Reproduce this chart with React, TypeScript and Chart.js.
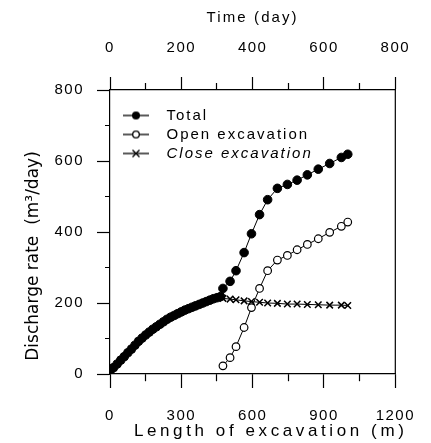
import React, { useEffect, useRef } from 'react';
import { Chart, registerables } from 'chart.js';

Chart.register(...registerables);

const FONT = "'Liberation Sans', Arial, Helvetica, sans-serif";
const WIDE_FONT = "'DejaVu Sans', 'Liberation Sans', sans-serif";

// Early stage (close excavation only): length of excavation (m) and discharge (m3/day)
const denseLength = [0, 15, 30, 45, 60, 75, 90, 105, 120, 135, 150, 165, 180, 195, 210, 225, 240, 255, 270, 285, 300, 315, 330, 345, 360, 375, 390, 405, 420, 435, 450, 465];
const denseTotal = [8, 18, 28, 39, 49, 60, 70, 81, 92, 101, 110, 118, 126, 133, 140, 147, 154, 160, 165, 170, 175, 180, 184, 188, 192, 196, 200, 204, 208, 212, 215, 218];

// Later stage (open + close excavation)
const stageLength = [475, 505, 530, 564, 595, 629, 663, 704, 746, 787, 830, 876, 924, 973, 1000];
const totalStage = [241, 261, 291, 342, 395, 449, 491, 523, 534, 546, 561, 577, 593, 610, 619];
const openStage = [23, 46, 77, 131, 187, 241, 291, 321, 334, 350, 365, 381, 399, 416, 428];
const closeStage = [213, 211, 209, 206, 204, 202, 200, 199, 197, 197, 196, 195, 194, 194, 193];

const seriesNames = ['Total', 'Open excavation', 'Close excavation'];
const italicSeries = 'Close excavation';

const lengthRange = [0, 1200];
const lengthTickStep = 150;
const lengthLabelStep = 300;
const timeRange = [0, 800];
const timeTickStep = 100;
const timeLabelStep = 200;
const rateRange = [0, 800];
const rateTickStep = 100;
const rateLabelStep = 200;

const xTitle = 'Length of excavation (m)';
const x2Title = 'Time (day)';
const yTitle = 'Discharge rate  (m\u00B3/day)';

function styleScaleText(scale: any, shift: [number, number], titleSpacing: string, labelSpacing: string) {
  if (scale.__styled) return;
  scale.__styled = true;
  const proto = Object.getPrototypeOf(scale);
  scale.drawTitle = function () {
    const ctx = this.ctx;
    ctx.save();
    ctx.letterSpacing = titleSpacing;
    ctx.translate(shift[0], shift[1]);
    proto.drawTitle.call(this);
    ctx.restore();
  };
  scale.drawLabels = function (area: any) {
    const ctx = this.ctx;
    ctx.save();
    ctx.letterSpacing = labelSpacing;
    proto.drawLabels.call(this, area);
    ctx.restore();
  };
}

function makeLegendIcon(kind: 'filled' | 'open' | 'cross') {
  const c = document.createElement('canvas');
  c.width = 45;
  c.height = 12;
  const g = c.getContext('2d')!;
  g.strokeStyle = '#000';
  g.lineWidth = 1.3;
  g.beginPath();
  g.moveTo(9, 6);
  g.lineTo(35, 6);
  g.stroke();
  if (kind === 'filled') {
    g.fillStyle = '#000';
    g.beginPath();
    g.arc(22, 6, 4, 0, Math.PI * 2);
    g.fill();
  } else if (kind === 'open') {
    g.fillStyle = '#fff';
    g.beginPath();
    g.arc(22, 6, 3.3, 0, Math.PI * 2);
    g.fill();
    g.stroke();
  } else {
    g.lineWidth = 1.4;
    g.beginPath();
    g.moveTo(18.5, 2.5);
    g.lineTo(25.5, 9.5);
    g.moveTo(25.5, 2.5);
    g.lineTo(18.5, 9.5);
    g.stroke();
  }
  return c;
}

function styleLegend(lg: any) {
  if (lg.__styled) return;
  lg.__styled = true;
  const proto = Object.getPrototypeOf(lg);
  lg.draw = function (area: any) {
    const ctx = this.ctx;
    const origFill = ctx.fillText;
    ctx.save();
    ctx.letterSpacing = '2px';
    ctx.fillText = function (text: string, x: number, y: number, mw?: number) {
      if (text === italicSeries) {
        const f = this.font;
        this.font = 'italic ' + f;
        if (mw === undefined) origFill.call(this, text, x, y);
        else origFill.call(this, text, x, y, mw);
        this.font = f;
      } else if (mw === undefined) {
        origFill.call(this, text, x, y);
      } else {
        origFill.call(this, text, x, y, mw);
      }
    };
    try {
      proto.draw.call(this, area);
    } finally {
      delete ctx.fillText;
      ctx.restore();
    }
  };
}

export default function App() {
  const ref = useRef<HTMLCanvasElement | null>(null);

  useEffect(() => {
    const canvas = ref.current;
    if (!canvas) return;

    const icons = [makeLegendIcon('filled'), makeLegendIcon('open'), makeLegendIcon('cross')];

    const totalData = [
      ...denseLength.map((x, i) => ({ x, y: denseTotal[i] })),
      ...stageLength.map((x, i) => ({ x, y: totalStage[i] })),
    ];
    const openData = stageLength.map((x, i) => ({ x, y: openStage[i] }));
    const closeData = [
      ...denseLength.map((x, i) => ({ x, y: denseTotal[i] })),
      ...stageLength.map((x, i) => ({ x, y: closeStage[i] })),
    ];

    const framePlugin = {
      id: 'frameAndLegend',
      beforeDraw(chart: any) {
        const lg = chart.legend;
        const ca = chart.chartArea;
        if (lg && ca) {
          styleLegend(lg);
          const h = lg.height;
          lg.left = ca.left;
          lg.top = ca.top + 14;
          lg.bottom = lg.top + h;
          lg.right = ca.right;
        }
      },
      afterDraw(chart: any) {
        const { ctx, chartArea: ca } = chart;
        ctx.save();
        ctx.strokeStyle = '#000';
        ctx.lineWidth = 1.2;
        ctx.beginPath();
        ctx.moveTo(ca.right, ca.top);
        ctx.lineTo(ca.right, ca.bottom);
        ctx.stroke();
        ctx.restore();
      },
    };

    const tickFont = { family: FONT, size: 15 };

    const chart = new Chart(canvas, {
      type: 'scatter',
      data: {
        datasets: [
          {
            label: seriesNames[0],
            data: totalData,
            showLine: true,
            borderColor: '#000',
            borderWidth: 1,
            backgroundColor: '#000',
            pointStyle: 'circle',
            pointRadius: 4.3,
            pointBorderWidth: 1,
            pointBackgroundColor: '#000',
            pointBorderColor: '#000',
            tension: 0,
          },
          {
            label: seriesNames[1],
            data: openData,
            showLine: true,
            borderColor: '#000',
            borderWidth: 1,
            backgroundColor: '#fff',
            pointStyle: 'circle',
            pointRadius: 3.8,
            pointBorderWidth: 1.2,
            pointBackgroundColor: '#fff',
            pointBorderColor: '#000',
            tension: 0,
          },
          {
            label: seriesNames[2],
            data: closeData,
            showLine: true,
            borderColor: '#000',
            borderWidth: 1,
            backgroundColor: '#000',
            pointStyle: 'crossRot',
            pointRadius: 4.6,
            pointBorderWidth: 1.5,
            pointBorderColor: '#000',
            tension: 0,
          },
        ],
      },
      options: {
        responsive: false,
        animation: false,
        events: [],
        layout: { padding: { left: 0, right: 26, top: 0, bottom: 0 } },
        plugins: {
          tooltip: { enabled: false },
          title: { display: false },
          legend: {
            display: true,
            position: 'chartArea' as any,
            align: 'start',
            title: { display: false },
            labels: {
              usePointStyle: true,
              pointStyleWidth: 45,
              padding: 4,
              color: '#000',
              font: { family: FONT, size: 15 },
              generateLabels: () =>
                seriesNames.map((name, i) => ({
                  text: name,
                  pointStyle: icons[i] as any,
                  datasetIndex: i,
                  hidden: false,
                  fillStyle: '#000',
                  strokeStyle: '#000',
                  lineWidth: 0,
                  fontColor: '#000',
                })),
            },
          },
        },
        scales: {
          x: {
            type: 'linear',
            axis: 'x',
            position: 'bottom',
            min: lengthRange[0],
            max: lengthRange[1],
            afterFit: (s: any) => {
              s.height = 69;
              styleScaleText(s, [18, 0], '3.6px', '1.5px');
            },
            ticks: {
              stepSize: lengthTickStep,
              autoSkip: false,
              maxRotation: 0,
              padding: 19,
              color: '#000',
              font: tickFont,
              callback: (v: any) => (Number(v) % lengthLabelStep === 0 ? String(v) : ''),
            },
            grid: {
              display: true,
              drawOnChartArea: false,
              drawTicks: true,
              tickLength: 14,
              tickColor: '#000',
              tickWidth: 1.2,
              tickBorderDash: (ctx: any) =>
                ctx.tick && ctx.tick.value % lengthLabelStep !== 0 ? [7, 100] : [],
            },
            border: { display: true, color: '#000', width: 1.2 },
            title: {
              display: true,
              text: xTitle,
              color: '#000',
              font: { family: FONT, size: 17 },
              padding: { top: 0, bottom: 1 },
            },
          },
          x2: {
            type: 'linear',
            axis: 'x',
            position: 'top',
            min: timeRange[0],
            max: timeRange[1],
            afterFit: (s: any) => {
              s.height = 90;
              styleScaleText(s, [0, 0], '2.1px', '1.5px');
            },
            ticks: {
              stepSize: timeTickStep,
              autoSkip: false,
              maxRotation: 0,
              padding: 20,
              color: '#000',
              font: tickFont,
              callback: (v: any) => (Number(v) % timeLabelStep === 0 ? String(v) : ''),
            },
            grid: {
              display: true,
              drawOnChartArea: false,
              drawTicks: true,
              tickLength: 13,
              tickColor: '#000',
              tickWidth: 1.2,
              tickBorderDash: (ctx: any) =>
                ctx.tick && ctx.tick.value % timeLabelStep !== 0 ? [0, 6, 7, 100] : [],
            },
            border: { display: true, color: '#000', width: 1.2 },
            title: {
              display: true,
              text: x2Title,
              color: '#000',
              font: { family: FONT, size: 15 },
              padding: { top: 9, bottom: 0 },
            },
          },
          y: {
            type: 'linear',
            axis: 'y',
            position: 'left',
            min: rateRange[0],
            max: rateRange[1],
            afterFit: (s: any) => {
              s.width = 110;
              styleScaleText(s, [0, 24], '0px', '1.5px');
            },
            ticks: {
              stepSize: rateTickStep,
              autoSkip: false,
              padding: 13,
              color: '#000',
              font: tickFont,
              callback: (v: any) => (Number(v) % rateLabelStep === 0 ? String(v) : ''),
            },
            grid: {
              display: true,
              drawOnChartArea: false,
              drawTicks: true,
              tickLength: 13,
              tickColor: '#000',
              tickWidth: 1.2,
              tickBorderDash: (ctx: any) =>
                ctx.tick && ctx.tick.value % rateLabelStep !== 0 ? [0, 8, 5, 100] : [],
            },
            border: { display: true, color: '#000', width: 1.2 },
            title: {
              display: true,
              text: yTitle,
              color: '#000',
              font: { family: WIDE_FONT, size: 17 },
              padding: { top: 23, bottom: 0 },
            },
          },
        },
      } as any,
      plugins: [framePlugin],
    });

    return () => {
      chart.destroy();
    };
  }, []);

  return (
    <div style={{ position: 'absolute', left: 0, top: 0, width: 431, height: 443, background: '#fff' }}>
      <canvas ref={ref} width={431} height={443} style={{ width: 431, height: 443, display: 'block' }} />
    </div>
  );
}
